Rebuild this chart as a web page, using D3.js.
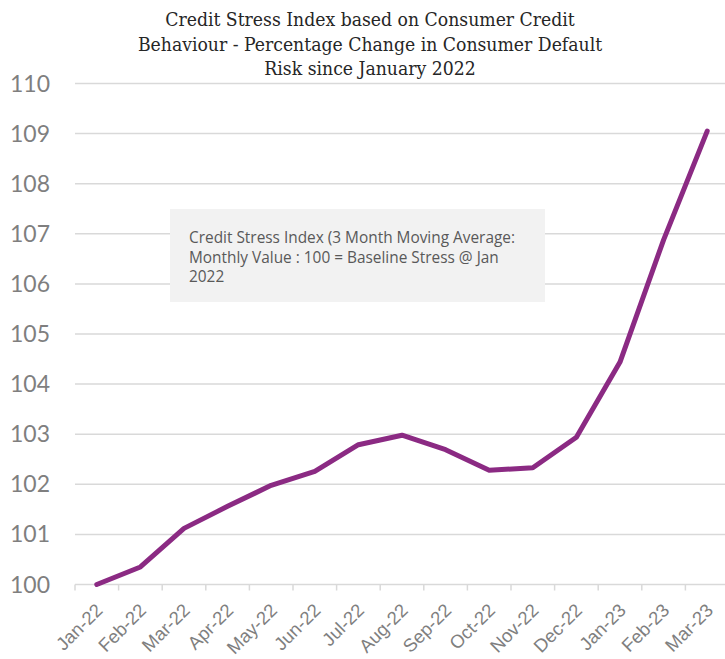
<!DOCTYPE html>
<html>
<head>
<meta charset="utf-8">
<script src="https://cdn.jsdelivr.net/npm/d3@7"></script>
<style>
body { margin: 0; background: #fff; }
</style>
</head>
<body>
<div id="chart"></div>
<script>
// data
var months = ["Jan-22", "Feb-22", "Mar-22", "Apr-22", "May-22", "Jun-22", "Jul-22", "Aug-22",
  "Sep-22", "Oct-22", "Nov-22", "Dec-22", "Jan-23", "Feb-23", "Mar-23"];
var stressIndex = [100.0, 100.35, 101.12, 101.56, 101.98, 102.26, 102.79, 102.98,
  102.69, 102.28, 102.33, 102.94, 104.44, 106.88, 109.05];
var yTicks = [100, 101, 102, 103, 104, 105, 106, 107, 108, 109, 110];
var titleLines = ["Credit Stress Index based on Consumer Credit",
  "Behaviour - Percentage Change in Consumer Default",
  "Risk since January 2022"];
var noteLines = ["Credit Stress Index (3 Month Moving Average:",
  "Monthly Value : 100 = Baseline Stress @ Jan",
  "2022"];

var svgWidth = 725;
var svgHeight = 659;

var svg = d3.select("#chart")
  .append("svg")
  .attr("width", svgWidth)
  .attr("height", svgHeight);

var x = d3.scaleBand()
  .domain(months)
  .range([75, 729]);

var y = d3.scaleLinear()
  .domain([100, 110])
  .range([584.5, 83.5]);

// gridlines
svg.append("g")
  .selectAll("line")
  .data(yTicks)
  .enter()
  .append("line")
  .attr("x1", 75)
  .attr("x2", 729)
  .attr("y1", d => y(d))
  .attr("y2", d => y(d))
  .attr("stroke", "#d9d9d9")
  .attr("stroke-width", 1.5);

// y labels
svg.append("g")
  .selectAll("text")
  .data(yTicks)
  .enter()
  .append("text")
  .attr("x", 50)
  .attr("y", d => y(d))
  .attr("dy", "0.35em")
  .attr("text-anchor", "end")
  .attr("fill", "#7f7f7f")
  .style("font-family", "Lato, 'Liberation Sans', sans-serif")
  .style("font-size", "23px")
  .text(d => d);

// x axis
var xAxis = d3.axisBottom(x).tickSize(6).tickSizeOuter(0);
var gx = svg.append("g")
  .attr("transform", `translate(0, ${y(100)})`)
  .call(xAxis);
gx.select(".domain").remove();
gx.selectAll(".tick line")
  .attr("stroke", "#d9d9d9")
  .attr("stroke-width", 1.5)
  .attr("transform", d => `translate(${-x.bandwidth() / 2}, 0)`);
gx.selectAll(".tick text")
  .attr("fill", "#7f7f7f")
  .style("font-family", "'Liberation Sans', Arial, sans-serif")
  .style("font-size", "18.5px")
  .attr("text-anchor", "end")
  .attr("y", 0)
  .attr("dy", 0)
  .attr("transform", "translate(7, 27) rotate(-45)");

// line
var line = d3.line()
  .x((d, i) => x(months[i]) + x.bandwidth() / 2)
  .y(d => y(d));

svg.append("path")
  .datum(stressIndex)
  .attr("d", line)
  .attr("fill", "none")
  .attr("stroke", "#8b2a83")
  .attr("stroke-width", 5)
  .attr("stroke-linejoin", "round")
  .attr("stroke-linecap", "round");

// note box
svg.append("rect")
  .attr("x", 170)
  .attr("y", 209)
  .attr("width", 375)
  .attr("height", 93)
  .attr("fill", "#f2f2f2");

svg.append("g")
  .selectAll("text")
  .data(noteLines)
  .enter()
  .append("text")
  .attr("x", 189)
  .attr("y", (d, i) => 243 + i * 19.5)
  .attr("fill", "#595959")
  .style("font-family", "'Open Sans', Lato, sans-serif")
  .style("font-size", "15.4px")
  .text(d => d);

// title
svg.append("g")
  .selectAll("text")
  .data(titleLines)
  .enter()
  .append("text")
  .attr("x", 370)
  .attr("y", (d, i) => 26 + i * 24.5)
  .attr("text-anchor", "middle")
  .attr("fill", "#262626")
  .style("font-family", "'DejaVu Serif Condensed', 'DejaVu Serif', serif")
  .style("font-stretch", "condensed")
  .style("font-size", "19.2px")
  .text(d => d);
</script>
</body>
</html>
